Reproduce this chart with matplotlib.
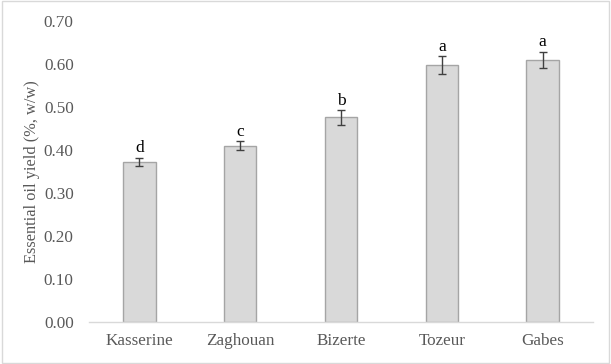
import matplotlib.pyplot as plt
from matplotlib.patches import Rectangle

regions = ["Kasserine", "Zaghouan", "Bizerte", "Tozeur", "Gabes"]
oil_yield = [0.372, 0.410, 0.476, 0.598, 0.610]
yield_err = [0.010, 0.010, 0.017, 0.021, 0.019]
letters = ["d", "c", "b", "a", "a"]

plt.rcParams["font.family"] = ["Liberation Serif", "DejaVu Serif"]

fig = plt.figure(figsize=(6.11, 3.64), dpi=100)
ax = fig.add_axes([0.1457, 0.1154, 0.8248, 0.8269])

x = range(len(regions))
ax.bar(x, oil_yield, width=0.32, color="#d9d9d9", edgecolor="#a5a5a5", linewidth=1.0, zorder=2)
ax.errorbar(x, oil_yield, yerr=yield_err, fmt="none", ecolor="#404040",
            elinewidth=1.0, capsize=3, capthick=1.0, zorder=3)

for i, (v, e, s) in enumerate(zip(oil_yield, yield_err, letters)):
    ax.text(i, v + e + 0.003, s, ha="center", va="bottom", fontsize=12.5, color="black")

ax.set_xlim(-0.5, len(regions) - 0.5)
ax.set_ylim(0, 0.70)
ax.set_yticks([i / 10 for i in range(8)])
ax.set_yticklabels([f"{i / 10:.2f}" for i in range(8)])
ax.set_xticks(list(x))
ax.set_xticklabels(regions)

ax.tick_params(axis="both", length=0, labelsize=12.3, labelcolor="#595959", pad=8)
ax.tick_params(axis="y", pad=11)
for side in ["top", "right", "left"]:
    ax.spines[side].set_visible(False)
ax.spines["bottom"].set_color("#d9d9d9")
ax.spines["bottom"].set_linewidth(1.0)

ax.set_ylabel("Essential oil yield (%, w/w)", fontsize=11.8, color="#595959", labelpad=3)

fig.patches.append(Rectangle((0.003, 0.004), 0.994, 0.992, transform=fig.transFigure,
                             fill=False, edgecolor="#d9d9d9", linewidth=1.0))

fig.savefig("out.png", dpi=100)
